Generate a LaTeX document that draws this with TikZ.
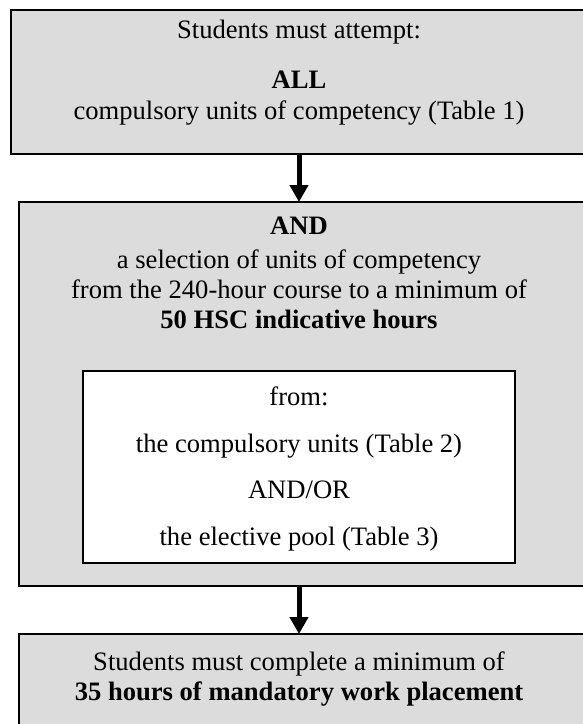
\documentclass[tikz,border=0pt]{standalone}
\usepackage{fontspec}
\setmainfont{Liberation Serif}
\usetikzlibrary{arrows.meta}
\definecolor{boxgray}{RGB}{220,220,220}
\tikzset{
  panel/.style={draw=black, line width=2pt, fill=boxgray, inner sep=0pt, outer sep=0pt, anchor=north west},
  whitepanel/.style={draw=black, line width=2pt, fill=white, inner sep=0pt, outer sep=0pt, anchor=north west},
  txt/.style={anchor=base, inner sep=0pt, font=\fontsize{26.6}{30}\selectfont},
  btxt/.style={txt, font=\fontsize{26.6}{30}\selectfont\bfseries},
  flow/.style={line width=5pt, -{Triangle[width=18pt,length=17pt]}}
}
\begin{document}
\begin{tikzpicture}[x=1pt,y=-1pt]
\useasboundingbox (0,0) rectangle (583,724);
\clip (0,0) rectangle (583,724);
% boxes
\node[panel, minimum width=579pt, minimum height=144pt] (box1) at (11,10) {};
\node[panel, minimum width=571pt, minimum height=384pt] (box2) at (19,202) {};
\node[whitepanel, minimum width=432pt, minimum height=192pt] (inner) at (83,371) {};
\node[panel, minimum width=571pt, minimum height=110pt] (box3) at (19,634) {};
\coordinate (ax) at (299,0);
% arrows
\draw[flow] (box1.south -| ax) -- (box2.north -| ax);
\draw[flow] (box2.south -| ax) -- (box3.north -| ax);
% texts box 1
\node[txt] (t1a) at (299,38) {Students must attempt:};
\node[btxt] (t1b) at (299,88) {ALL};
\node[txt] (t1c) at (299,119) {compulsory units of competency (Table 1)};
% texts box 2
\node[btxt] (t2a) at (299,234) {AND};
\node[txt] (t2b) at (299,268) {a selection of units of competency};
\node[txt] (t2c) at (299,298) {from the 240-hour course to a minimum of};
\node[btxt] (t2d) at (299,328) {50 HSC indicative hours};
% inner box texts
\node[txt] (t3a) at (299,405) {from:};
\node[txt] (t3b) at (299,452) {the compulsory units (Table 2)};
\node[txt] (t3c) at (299,498) {AND/OR};
\node[txt] (t3d) at (299,545) {the elective pool (Table 3)};
% box 3 texts
\node[txt] (t4a) at (299,670) {Students must complete a minimum of};
\node[btxt] (t4b) at (299,700) {35 hours of mandatory work placement};
\end{tikzpicture}
\end{document}
